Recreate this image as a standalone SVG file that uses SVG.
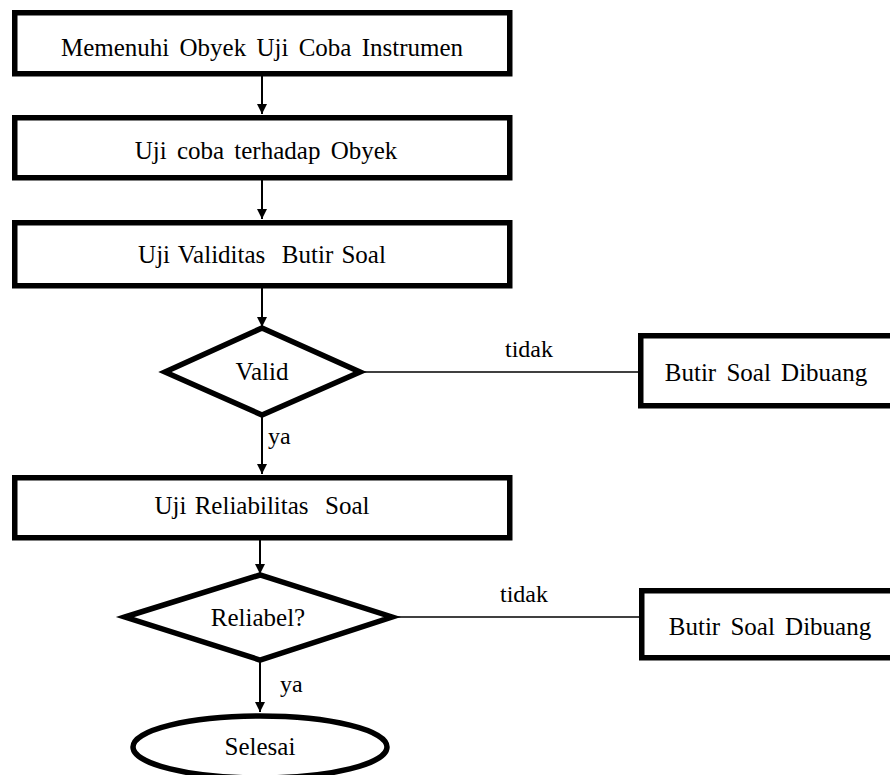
<svg xmlns="http://www.w3.org/2000/svg" width="890" height="775" viewBox="0 0 890 775">
<defs>
<style>
.n{fill:#fff;stroke:#000;stroke-width:5.5}
.t{font-family:"Liberation Serif","Times New Roman",serif;font-size:25px;fill:#000;text-anchor:middle;word-spacing:4px}
.p{white-space:pre;word-spacing:2px}
.l{font-family:"Liberation Serif","Times New Roman",serif;font-size:24px;fill:#000}
.c{stroke:#000;stroke-width:2;fill:none}
.h{stroke:#000;stroke-width:1.5;fill:none}
</style>
<marker id="a" viewBox="0 0 10 10" refX="10" refY="5" markerWidth="5" markerHeight="5" orient="auto" markerUnits="strokeWidth">
<path d="M0,0 L10,5 L0,10 z" fill="#000"/>
</marker>
</defs>
<rect width="890" height="775" fill="#fff"/>
<g id="connectors">
<line class="c" x1="262" y1="76" x2="262" y2="114" marker-end="url(#a)"/>
<line class="c" x1="262" y1="180" x2="262" y2="219" marker-end="url(#a)"/>
<line class="c" x1="262" y1="288" x2="262" y2="327" marker-end="url(#a)"/>
<line class="c" x1="262" y1="415" x2="262" y2="474" marker-end="url(#a)"/>
<line class="c" x1="260" y1="540" x2="260" y2="574" marker-end="url(#a)"/>
<line class="c" x1="260" y1="660" x2="260" y2="712" marker-end="url(#a)"/>
<line class="h" x1="360" y1="372" x2="638" y2="372"/>
<line class="h" x1="392" y1="617" x2="639" y2="617"/>
<text class="l" x="505" y="357">tidak</text>
<text class="l" x="500" y="602">tidak</text>
<text class="l" x="268" y="444">ya</text>
<text class="l" x="280" y="692">ya</text>
</g>
<g id="n1">
<rect class="n" x="14.75" y="12.75" width="495" height="61"/>
<text class="t" x="262" y="56">Memenuhi Obyek Uji Coba Instrumen</text>
</g>
<g id="n2">
<rect class="n" x="14.75" y="117.75" width="495" height="60"/>
<text class="t" x="266" y="159">Uji coba terhadap Obyek</text>
</g>
<g id="n3">
<rect class="n" x="14.75" y="222.75" width="495" height="63"/>
<text class="t p" x="262" y="263">Uji Validitas  Butir Soal</text>
</g>
<g id="n4">
<polygon class="n" points="165,372 262,328 360,372 262,415"/>
<text class="t" x="262" y="380">Valid</text>
</g>
<g id="n5">
<rect class="n" x="640.75" y="335.75" width="260" height="70"/>
<text class="t" x="766" y="381">Butir Soal Dibuang</text>
</g>
<g id="n6">
<rect class="n" x="14.75" y="477.75" width="495" height="60"/>
<text class="t p" x="262" y="514">Uji Reliabilitas  Soal</text>
</g>
<g id="n7">
<polygon class="n" points="125,617 260,575 392,617 260,660"/>
<text class="t" x="258" y="626">Reliabel?</text>
</g>
<g id="n8">
<rect class="n" x="641.75" y="590.75" width="260" height="67"/>
<text class="t" x="770" y="635">Butir Soal Dibuang</text>
</g>
<g id="n9">
<ellipse class="n" cx="260" cy="747" rx="127" ry="31"/>
<text class="t" x="260" y="755">Selesai</text>
</g>
</svg>
